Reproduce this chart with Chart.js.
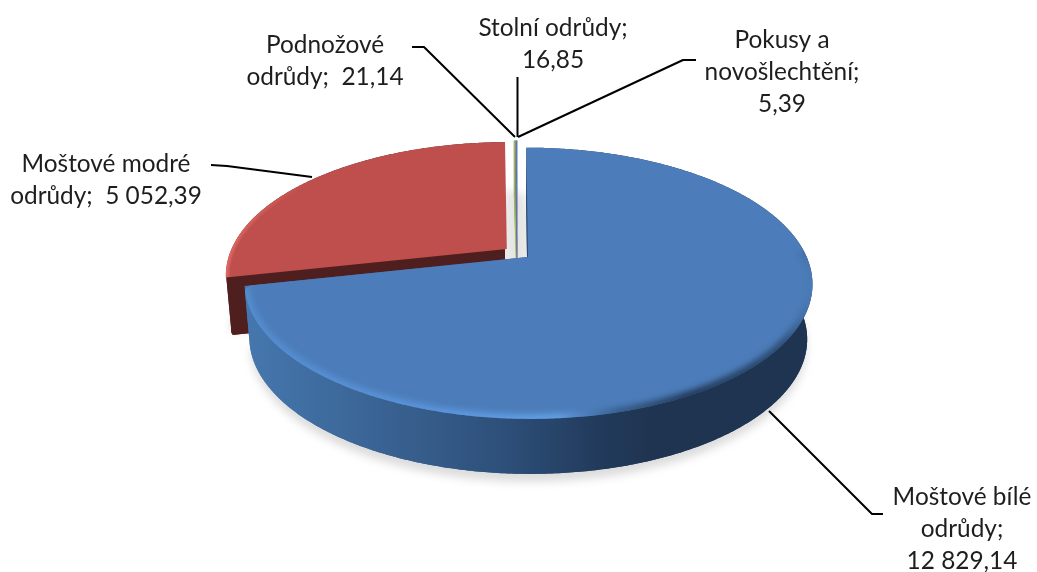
<!DOCTYPE html>
<html>
<head>
<meta charset="utf-8">
<style>
  html, body { margin: 0; padding: 0; background: #fff; }
  canvas { display: block; }
</style>
</head>
<body>
<canvas id="pie" width="1037" height="572"></canvas>
<script src="https://cdn.jsdelivr.net/npm/chart.js@4"></script>
<script>
// data
const categories = ['Moštové bílé odrůdy', 'Moštové modré odrůdy', 'Podnožové odrůdy', 'Stolní odrůdy', 'Pokusy a novošlechtění'];
const values = [12829.14, 5052.39, 21.14, 16.85, 5.39];
const topColors = ['#4c7dba', '#be4f4d', '#9bbb59', '#8064a2', '#4bacc6'];

// label text, one entry per line
const labelLines = [
  ['Moštové bílé', 'odrůdy;', '12 829,14'],
  ['Moštové modré', 'odrůdy;  5 052,39'],
  ['Podnožové', 'odrůdy;  21,14'],
  ['Stolní odrůdy;', '16,85'],
  ['Pokusy a', 'novošlechtění;', '5,39']
];
const labelCenterX = [962, 106, 325, 553, 782];
const labelFirstBaseline = [505, 172, 53, 36, 48];

// leader lines
const leaders = [
  [[769, 411], [872, 514], [883, 514]],
  [[211, 165], [227, 166], [312, 177]],
  [[412, 47], [424, 47], [515, 137]],
  [[517.5, 77], [517.5, 137]],
  [[518, 137], [683, 60], [696, 60]]
];

// perspective of the pie plate
const X0 = 517.4, Y0 = 253, RX = 277, RY = 129, PERSP = 0.1926, DEPTH = 55, EXPLODE = 0.049;
const BOTTOM_SHRINK = 0.018;

function project(c, a, r, drop) {
  const u = c.u + r * Math.cos(a);
  const v = c.v + r * Math.sin(a);
  const w = 1 - PERSP * v;
  const k = 1 - BOTTOM_SHRINK * drop / DEPTH; // the underside is a bit further away
  return [X0 + RX * u / w * k, Y0 + RY * v / w + drop];
}

function rimPoints(c, from, to, drop, r = 1) {
  const pts = [];
  const n = Math.max(2, Math.ceil(Math.abs(to - from) / 0.01));
  for (let i = 0; i <= n; i++) pts.push(project(c, from + (to - from) * i / n, r, drop));
  return pts;
}

function tracePath(ctx, pts) {
  ctx.beginPath();
  pts.forEach((p, i) => i ? ctx.lineTo(p[0], p[1]) : ctx.moveTo(p[0], p[1]));
}

function fillShape(ctx, pts, fill, edge = 0) {
  tracePath(ctx, pts);
  ctx.closePath();
  ctx.fillStyle = fill;
  ctx.fill();
  if (edge) {
    ctx.strokeStyle = fill;
    ctx.lineWidth = edge;
    ctx.lineJoin = 'round';
    ctx.stroke();
  }
}

function sector(c, arc, drop, r = 1) {
  return [project(c, 0, 0, drop)].concat(rimPoints(c, arc.startAngle, arc.endAngle, drop, r));
}

// top face whose last rim corner is rounded off
function traceTop(ctx, c, arc, corner) {
  const pts = sector(c, arc, 0);
  const tip = pts.pop();
  const keep = pts.filter(p => Math.hypot(p[0] - tip[0], p[1] - tip[1]) > corner || p === pts[0]);
  tracePath(ctx, keep);
  ctx.arcTo(tip[0], tip[1], pts[0][0], pts[0][1], corner);
  ctx.closePath();
}

function drawWall(ctx, c, arc, fill, r = 1, edge = 0) {
  const a = arc.startAngle, b = arc.endAngle;
  fillShape(ctx, sector(c, arc, DEPTH, r), fill, edge);
  fillShape(ctx, rimPoints(c, a, b, 0, r).concat(rimPoints(c, b, a, DEPTH, r)), fill, edge);
  [a, b].forEach(ang => {
    fillShape(ctx, [project(c, 0, 0, 0), project(c, ang, r, 0), project(c, ang, r, DEPTH), project(c, 0, 0, DEPTH)], fill, edge);
  });
}

// soft bevel along the rim, kept inside the top face
function drawBevel(ctx, c, arc, clipArc, stroke, width, blur) {
  ctx.save();
  traceTop(ctx, c, clipArc, 6);
  ctx.clip();
  ctx.filter = `blur(${blur}px)`;
  tracePath(ctx, rimPoints(c, arc.startAngle, arc.endAngle, 0));
  ctx.strokeStyle = stroke;
  ctx.lineWidth = width;
  ctx.stroke();
  ctx.restore();
}

const pie3d = {
  id: 'pie3d',
  beforeDatasetsDraw(chart) {
    const ctx = chart.ctx;
    const arcs = chart.getDatasetMeta(0).data;
    const centers = arcs.map(arc => {
      const mid = (arc.startAngle + arc.endAngle) / 2;
      return { u: EXPLODE * Math.cos(mid), v: EXPLODE * Math.sin(mid) };
    });

    // shadow under the plate
    ctx.save();
    ctx.filter = 'blur(4px)';
    const sh = DEPTH + 8;
    fillShape(ctx, sector(centers[0], arcs[0], sh), '#dcdcdc');
    fillShape(ctx, sector(centers[1], arcs[1], sh - 8), '#dcdcdc');
    fillShape(ctx, [
      project(centers[1], arcs[1].endAngle, 1, DEPTH - 8),
      project(centers[0], arcs[0].startAngle, 1, DEPTH - 8),
      project(centers[0], 0, 0, DEPTH),
      project(centers[1], 0, 0, DEPTH)
    ], '#e4e4e4');
    ctx.restore();

    // thin slices first, they stand behind the two big ones
    for (let i = 2; i < arcs.length; i++) {
      drawWall(ctx, centers[i], arcs[i], topColors[i]);
      fillShape(ctx, sector(centers[i], arcs[i], 0), topColors[i]);
    }

    // red slice, the wall gets round corners but must not leak past the top face
    const redTop = rimPoints(centers[1], arcs[1].startAngle, arcs[1].endAngle, 0);
    const redLast = redTop[redTop.length - 1];
    ctx.save();
    tracePath(ctx, redTop.concat([[redLast[0], 572], [redTop[0][0] - 10, 572], [redTop[0][0] - 10, redTop[0][1]]]));
    ctx.closePath();
    ctx.clip();
    drawWall(ctx, centers[1], arcs[1], '#4f1f1f', 0.99, 5);
    ctx.restore();
    fillShape(ctx, sector(centers[1], arcs[1], 0), topColors[1]);
    const redRim = ctx.createLinearGradient(226, 0, 310, 0);
    redRim.addColorStop(0, 'rgba(224,106,100,0.9)');
    redRim.addColorStop(1, 'rgba(224,106,100,0)');
    drawBevel(ctx, centers[1], arcs[1], arcs[1], redRim, 6, 1);

    // blue slice
    const wall = ctx.createLinearGradient(247, 0, 812, 0);
    wall.addColorStop(0, '#4577ae');
    wall.addColorStop(0.27, '#38608f');
    wall.addColorStop(0.45, '#2e507a');
    wall.addColorStop(0.62, '#223b5c');
    wall.addColorStop(0.72, '#1f3450');
    wall.addColorStop(1, '#1f3450');
    drawWall(ctx, centers[0], arcs[0], wall);
    traceTop(ctx, centers[0], arcs[0], 6);
    ctx.fillStyle = topColors[0];
    ctx.fill();

    const rim = ctx.createLinearGradient(247, 0, 812, 0);
    rim.addColorStop(0, 'rgba(86,146,214,0.8)');
    rim.addColorStop(0.3, 'rgba(92,152,224,0.9)');
    rim.addColorStop(0.55, 'rgba(100,162,234,1)');
    rim.addColorStop(0.66, 'rgba(50,86,130,0.9)');
    rim.addColorStop(0.78, 'rgba(31,52,80,1)');
    rim.addColorStop(0.95, 'rgba(31,52,80,0.7)');
    rim.addColorStop(1, 'rgba(31,52,80,0)');
    const lower = { startAngle: -0.05, endAngle: arcs[0].endAngle };
    drawBevel(ctx, centers[0], lower, arcs[0], rim, 9, 3);
    return false;
  },
  afterDraw(chart) {
    const ctx = chart.ctx;
    ctx.save();
    ctx.strokeStyle = '#000';
    ctx.lineWidth = 2;
    ctx.lineJoin = 'round';
    leaders.forEach(line => {
      tracePath(ctx, line);
      ctx.stroke();
    });
    ctx.fillStyle = '#1e1e1e';
    ctx.font = '24.4px Lato';
    ctx.textAlign = 'center';
    labelLines.forEach((lines, i) => {
      lines.forEach((txt, j) => ctx.fillText(txt, labelCenterX[i], labelFirstBaseline[i] + j * 32));
    });
    ctx.restore();
  }
};

new Chart(document.getElementById('pie').getContext('2d'), {
  type: 'pie',
  data: {
    labels: categories,
    datasets: [{ data: values, backgroundColor: topColors, borderWidth: 0 }]
  },
  options: {
    responsive: false,
    animation: false,
    plugins: { legend: { display: false }, tooltip: { enabled: false } }
  },
  plugins: [pie3d]
});
</script>
</body>
</html>
